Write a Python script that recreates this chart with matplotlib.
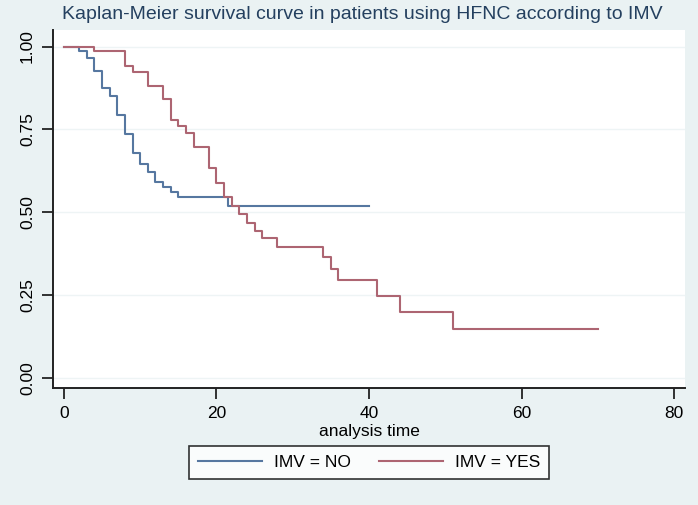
import numpy as np
import matplotlib.pyplot as plt

plt.rcParams['font.family'] = ['Liberation Sans', 'DejaVu Sans']

# Kaplan-Meier estimates
t_no = [0, 2, 3, 4, 5, 6, 7, 8, 9, 10, 11, 12, 13, 14, 15, 21.5, 40]
s_no = [1.0, 0.985, 0.965, 0.927, 0.874, 0.851, 0.794, 0.735, 0.677, 0.646,
        0.621, 0.590, 0.577, 0.562, 0.545, 0.518, 0.518]

t_yes = [0, 4, 8, 9, 11, 13, 14, 15, 16, 17, 19, 20, 21, 22, 23, 24, 25, 26,
         28, 34, 35, 36, 41, 44, 51, 70]
s_yes = [1.0, 0.985, 0.94, 0.923, 0.88, 0.842, 0.779, 0.760, 0.738, 0.697,
         0.632, 0.587, 0.546, 0.519, 0.494, 0.468, 0.443, 0.421, 0.394, 0.364,
         0.327, 0.295, 0.247, 0.198, 0.148, 0.148]

x_ticks = [0, 20, 40, 60, 80]
y_ticks = [0.0, 0.25, 0.5, 0.75, 1.0]
y_labels = ["0.00", "0.25", "0.50", "0.75", "1.00"]

bg = '#eaf2f3'
c_no = '#5677a0'
c_yes = '#ad6572'

fig = plt.figure(figsize=(6.98, 5.05), dpi=100, facecolor=bg)
ax = fig.add_axes([0.0759, 0.2317, 0.9055, 0.709])
ax.set_facecolor('white')

ax.step(t_no, s_no, where='post', color=c_no, lw=1.5, label='IMV = NO')
ax.step(t_yes, s_yes, where='post', color=c_yes, lw=1.5, label='IMV = YES')

ax.set_xlim(-1.44, 81.44)
ax.set_ylim(-0.031, 1.05)
ax.set_xticks(x_ticks)
ax.set_yticks(y_ticks)
ax.set_yticklabels(y_labels, rotation=90, va='center')
ax.tick_params(labelsize=12.5, length=8, width=1.3, color='#222222', pad=5)

for y in y_ticks:
    ax.axhline(y, color='#eef4f5', lw=1.0, zorder=0)

for side in ['top', 'right']:
    ax.spines[side].set_visible(False)
for side in ['left', 'bottom']:
    ax.spines[side].set_linewidth(1.4)
    ax.spines[side].set_color('#222222')

ax.set_xlabel('analysis time', fontsize=12.5, labelpad=2)
fig.text(0.519, 0.972, 'Kaplan-Meier survival curve in patients using HFNC according to IMV',
         ha='center', va='center', fontsize=14, color='#24405f')

leg = fig.legend(loc='center', bbox_to_anchor=(0.529, 0.084), ncol=2,
                 fontsize=12.5, frameon=True, fancybox=False, edgecolor='black',
                 handlelength=3.7, handletextpad=0.7, columnspacing=1.6,
                 borderpad=0.5)
leg.get_frame().set_linewidth(1.2)

fig.savefig('out.png', dpi=100, facecolor=bg)
